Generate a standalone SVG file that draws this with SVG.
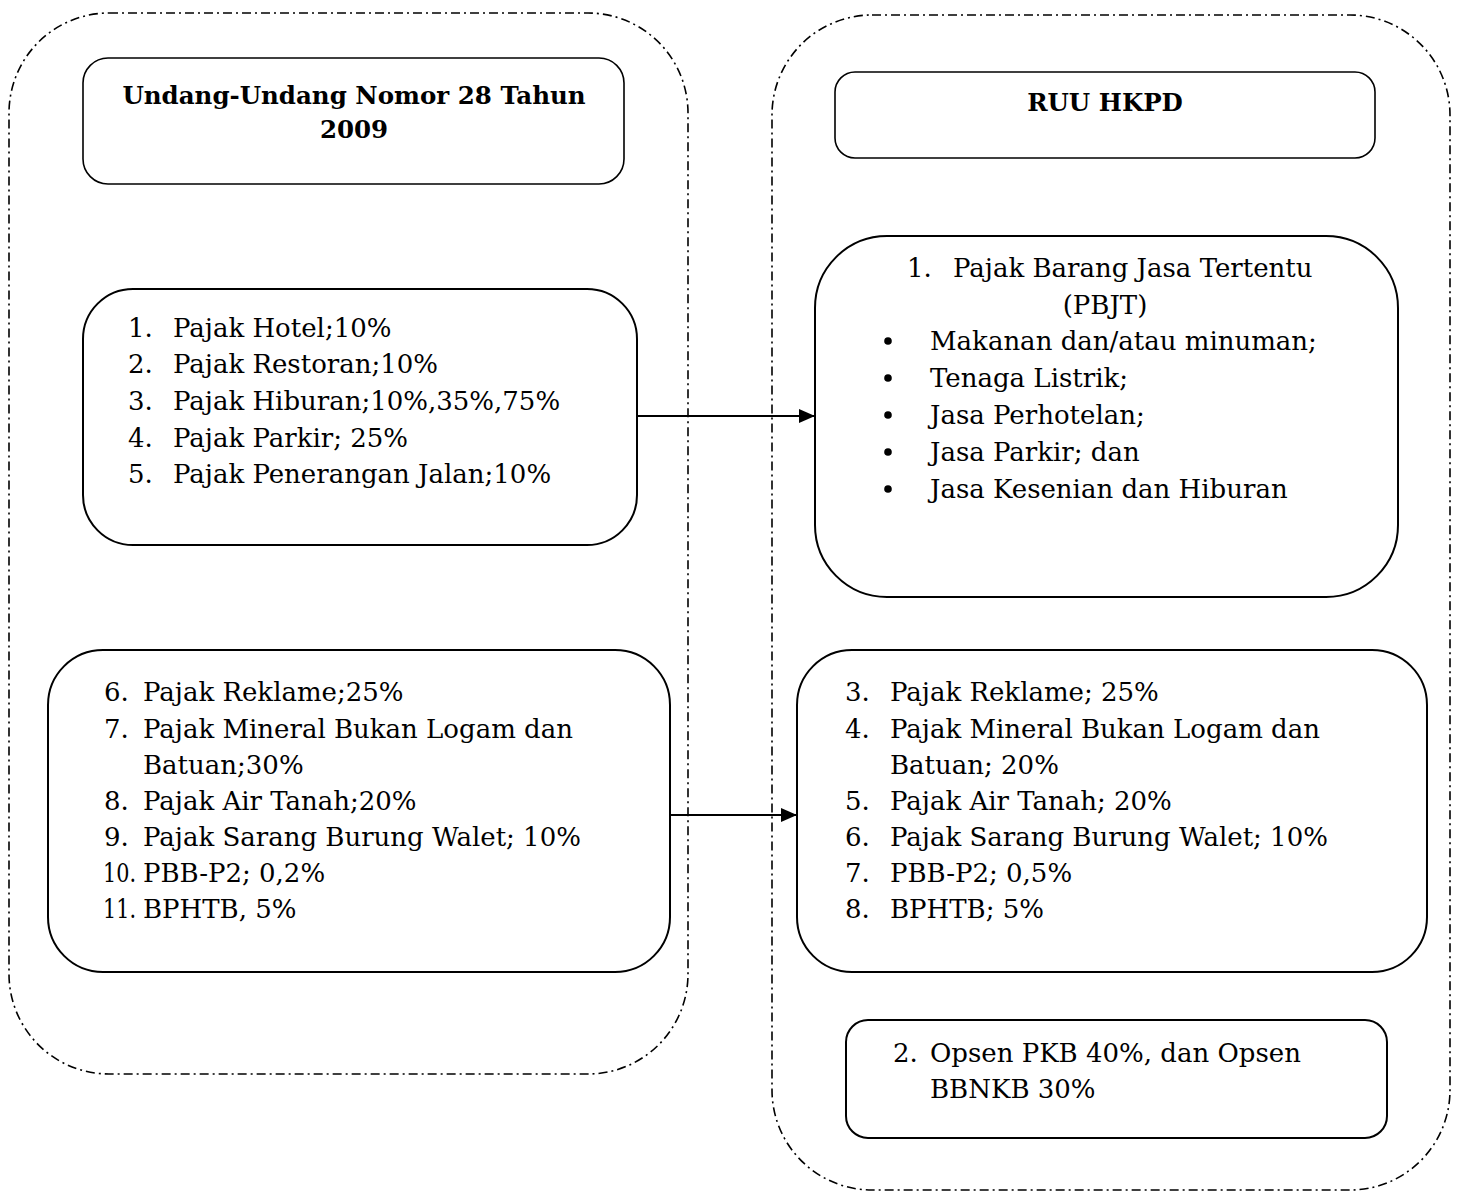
<svg xmlns="http://www.w3.org/2000/svg" width="1459" height="1192" viewBox="0 0 1459 1192">
<defs>
<marker id="arr" viewBox="0 0 16 14" refX="16" refY="7" markerWidth="16" markerHeight="14" markerUnits="userSpaceOnUse" orient="auto">
<path d="M0,0 L16,7 L0,14 Z" fill="#000"/>
</marker>
</defs>
<style>
.cont{fill:none;stroke:#000;stroke-width:1.6;stroke-dasharray:9 4 2 4}
.box{fill:#fff;stroke:#000;stroke-width:2}
.t{font-family:"DejaVu Serif","Liberation Serif",serif;font-size:26px;fill:#000}
.b{font-family:"DejaVu Serif","Liberation Serif",serif;font-size:24.5px;font-weight:bold;fill:#000}
.conn{stroke:#000;stroke-width:2;fill:none}
</style>
<rect width="1459" height="1192" fill="#fff"/>
<g id="container-left"><rect class="cont" x="9" y="13" width="679" height="1061" rx="100" ry="100"/></g>
<g id="container-right"><rect class="cont" x="772" y="15" width="678" height="1175" rx="100" ry="100"/></g>

<g id="connectors">
<line class="conn" x1="637" y1="416" x2="815" y2="416" marker-end="url(#arr)"/>
<line class="conn" x1="670" y1="815" x2="797" y2="815" marker-end="url(#arr)"/>
</g>

<g id="title-left">
<rect class="box" x="83" y="58" width="541" height="126" rx="25" ry="25" style="stroke-width:1.6"/>
<text class="b" x="354" y="104" text-anchor="middle">Undang-Undang Nomor 28 Tahun</text>
<text class="b" x="354" y="138" text-anchor="middle">2009</text>
</g>

<g id="title-right">
<rect class="box" x="835" y="72" width="540" height="86" rx="20" ry="20" style="stroke-width:1.6"/>
<text class="b" x="1105" y="111" text-anchor="middle">RUU HKPD</text>
</g>

<g id="box-uu-1">
<rect class="box" x="83" y="289" width="554" height="256" rx="50" ry="50"/>
<text class="t" x="128" y="337">1.</text><text class="t" x="173" y="337">Pajak Hotel;10%</text>
<text class="t" x="128" y="373">2.</text><text class="t" x="173" y="373">Pajak Restoran;10%</text>
<text class="t" x="128" y="410">3.</text><text class="t" x="173" y="410">Pajak Hiburan;10%,35%,75%</text>
<text class="t" x="128" y="447">4.</text><text class="t" x="173" y="447">Pajak Parkir; 25%</text>
<text class="t" x="128" y="483">5.</text><text class="t" x="173" y="483">Pajak Penerangan Jalan;10%</text>
</g>

<g id="box-pbjt">
<rect class="box" x="815" y="236" width="583" height="361" rx="72" ry="72"/>
<text class="t" x="907" y="277">1.</text><text class="t" x="953" y="277">Pajak Barang Jasa Tertentu</text>
<text class="t" x="1105" y="314" text-anchor="middle">(PBJT)</text>
<circle cx="888" cy="341" r="3.8"/><text class="t" x="930" y="350">Makanan dan/atau minuman;</text>
<circle cx="888" cy="378" r="3.8"/><text class="t" x="930" y="387">Tenaga Listrik;</text>
<circle cx="888" cy="415" r="3.8"/><text class="t" x="930" y="424">Jasa Perhotelan;</text>
<circle cx="888" cy="452" r="3.8"/><text class="t" x="930" y="461">Jasa Parkir; dan</text>
<circle cx="888" cy="489" r="3.8"/><text class="t" x="930" y="498">Jasa Kesenian dan Hiburan</text>
</g>

<g id="box-uu-2">
<rect class="box" x="48" y="650" width="622" height="322" rx="55" ry="55"/>
<text class="t" x="104" y="701">6.</text><text class="t" x="143" y="701">Pajak Reklame;25%</text>
<text class="t" x="104" y="738">7.</text><text class="t" x="143" y="738">Pajak Mineral Bukan Logam dan</text>
<text class="t" x="143" y="774">Batuan;30%</text>
<text class="t" x="104" y="810">8.</text><text class="t" x="143" y="810">Pajak Air Tanah;20%</text>
<text class="t" x="104" y="846">9.</text><text class="t" x="143" y="846">Pajak Sarang Burung Walet; 10%</text>
<text class="t" x="103" y="882" textLength="33" lengthAdjust="spacingAndGlyphs">10.</text><text class="t" x="143" y="882">PBB-P2; 0,2%</text>
<text class="t" x="103" y="918" textLength="33" lengthAdjust="spacingAndGlyphs">11.</text><text class="t" x="143" y="918">BPHTB, 5%</text>
</g>

<g id="box-hkpd-2">
<rect class="box" x="797" y="650" width="630" height="322" rx="55" ry="55"/>
<text class="t" x="845" y="701">3.</text><text class="t" x="890" y="701">Pajak Reklame; 25%</text>
<text class="t" x="845" y="738">4.</text><text class="t" x="890" y="738">Pajak Mineral Bukan Logam dan</text>
<text class="t" x="890" y="774">Batuan; 20%</text>
<text class="t" x="845" y="810">5.</text><text class="t" x="890" y="810">Pajak Air Tanah; 20%</text>
<text class="t" x="845" y="846">6.</text><text class="t" x="890" y="846">Pajak Sarang Burung Walet; 10%</text>
<text class="t" x="845" y="882">7.</text><text class="t" x="890" y="882">PBB-P2; 0,5%</text>
<text class="t" x="845" y="918">8.</text><text class="t" x="890" y="918">BPHTB; 5%</text>
</g>

<g id="box-opsen">
<rect class="box" x="846" y="1020" width="541" height="118" rx="22" ry="22"/>
<text class="t" x="893" y="1062">2.</text><text class="t" x="930" y="1062">Opsen PKB 40%, dan Opsen</text>
<text class="t" x="930" y="1098">BBNKB 30%</text>
</g>
</svg>
